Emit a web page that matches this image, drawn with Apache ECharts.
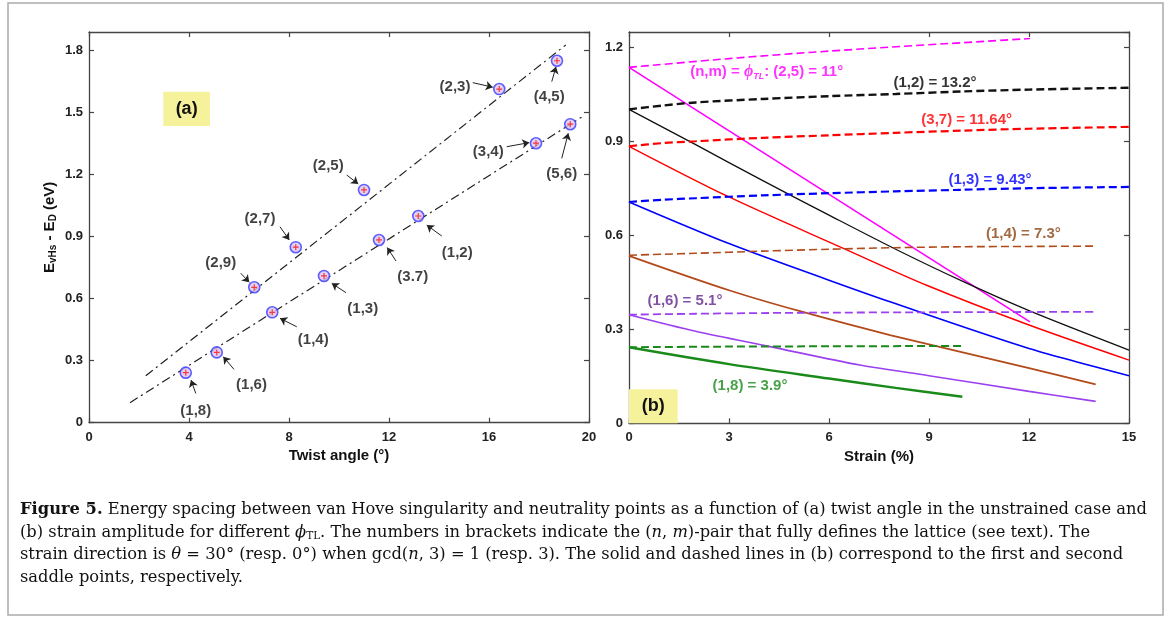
<!DOCTYPE html>
<html><head><meta charset="utf-8">
<script src="https://cdn.jsdelivr.net/npm/echarts@6/dist/echarts.min.js"></script>
<style>html,body{margin:0;padding:0;background:#fff}#c{width:1171px;height:617px}</style>
</head><body><div id="c"></div>
<script>
// ---------- Panel (a) data ----------
const twistAngles   = [3.87, 5.11, 6.61, 7.33, 8.27, 9.40, 11.0, 11.6, 13.17, 16.41, 17.88, 18.72, 19.25];
const energySpacing = [0.242, 0.34, 0.655, 0.534, 0.849, 0.71, 1.126, 0.884, 1.0, 1.614, 1.352, 1.751, 1.444];
const pairLabels    = ['(1,8)','(1,6)','(2,9)','(1,4)','(2,7)','(1,3)','(2,5)','(3.7)','(1,2)','(2,3)','(3,4)','(4,5)','(5,6)'];
const labelX = [4.27, 6.5, 5.27, 8.97, 6.84, 10.95, 9.57, 12.95, 14.73, 14.64, 15.97, 18.41, 18.91];
const labelY = [0.057, 0.182, 0.774, 0.40, 0.985, 0.553, 1.242, 0.706, 0.823, 1.626, 1.311, 1.577, 1.203];
const arrowTailX = [4.27, 5.8, 6.07, 8.31, 7.64, 10.28, 10.31, 12.28, 14.11, 15.35, 16.71, 18.51, 18.91];
const arrowTailY = [0.142, 0.258, 0.723, 0.464, 0.948, 0.629, 1.198, 0.782, 0.903, 1.645, 1.335, 1.650, 1.279];
const arrowHeadX = [4.08, 5.37, 6.41, 7.64, 8.01, 9.71, 10.77, 11.93, 13.51, 16.15, 17.61, 18.68, 19.17];
const arrowHeadY = [0.206, 0.319, 0.679, 0.505, 0.884, 0.674, 1.155, 0.847, 0.956, 1.623, 1.355, 1.722, 1.40];
const upperFitX = [2.27, 19.07], upperFitY = [0.227, 1.827];
const lowerFitX = [1.64, 19.7],  lowerFitY = [0.097, 1.478];
const twistTicks = [0, 4, 8, 12, 16, 20];
const energyTicksA = [0, 0.3, 0.6, 0.9, 1.2, 1.5, 1.8];

// ---------- Panel (b) data ----------
const magentaSolidX = [0, 12.03];            const magentaSolidY = [1.137, 0.324];
const magentaDashX  = [0, 3, 6, 12.03];      const magentaDashY  = [1.137, 1.165, 1.189, 1.229];
const blackSolidX = [0, 2, 4, 6, 8, 10, 12, 15];     const blackSolidY = [1.003, 0.89, 0.776, 0.665, 0.556, 0.454, 0.36, 0.234];
const blackDashX  = [0, 1, 2, 4, 6, 8, 10, 12, 15];  const blackDashY  = [1.003, 1.015, 1.025, 1.036, 1.045, 1.052, 1.06, 1.066, 1.072];
const redSolidX = [0, 3, 6.43, 8.93, 12, 15];        const redSolidY = [0.885, 0.723, 0.559, 0.441, 0.314, 0.202];
const redDashX  = [0, 1, 2, 4, 6, 8, 10, 12, 15];    const redDashY  = [0.885, 0.895, 0.901, 0.912, 0.92, 0.928, 0.935, 0.941, 0.947];
const blueSolidX = [0, 3, 6, 7.83, 12, 15];          const blueSolidY = [0.707, 0.574, 0.457, 0.388, 0.239, 0.152];
const blueDashX  = [0, 1, 2, 4, 6, 8, 10, 12, 15];   const blueDashY  = [0.707, 0.714, 0.719, 0.728, 0.735, 0.741, 0.746, 0.751, 0.755];
const brownSolidX = [0, 3, 5.13, 7.83, 12, 14];      const brownSolidY = [0.535, 0.425, 0.358, 0.282, 0.176, 0.124];
const brownDashX  = [0, 1, 2, 4, 6, 8, 10, 12, 14];  const brownDashY  = [0.537, 0.54, 0.543, 0.55, 0.556, 0.561, 0.564, 0.565, 0.566];
const purpleSolidX = [0, 2, 4.23, 6.93, 9, 12, 14];  const purpleSolidY = [0.347, 0.294, 0.245, 0.186, 0.152, 0.102, 0.07];
const purpleDashX  = [0, 2, 5, 10, 14];              const purpleDashY  = [0.347, 0.35, 0.353, 0.355, 0.356];
const greenSolidX = [0, 3, 6, 8, 10];                const greenSolidY = [0.243, 0.189, 0.143, 0.113, 0.085];
const greenDashX  = [0, 3, 6, 10];                   const greenDashY  = [0.243, 0.245, 0.246, 0.247];
const strainTicks = [0, 3, 6, 9, 12, 15];
const energyTicksB = [0, 0.3, 0.6, 0.9, 1.2];
const curveLabels = ['{t|(n,m) = }{i|ϕ}{s|TL}{t|: (2,5) = 11°}', '(1,2) = 13.2°', '(3,7) = 11.64°', '(1,3) = 9.43°', '(1,4) = 7.3°', '(1,6) = 5.1°', '(1,8) = 3.9°'];
const curveLabelX = [4.13, 9.18, 10.13, 10.83, 11.83, 1.68, 3.63];
const curveLabelY = [1.122, 1.087, 0.968, 0.777, 0.606, 0.391, 0.119];
const curveLabelColors = ['#ff00ff', '#000000', '#ff0000', '#0000ff', '#8b4513', '#62268f', '#1a8a1a'];

const zip = (xs, ys) => xs.map((x, i) => [x, ys[i]]);
const chart = echarts.init(document.getElementById('c'), null, {renderer: 'canvas'});

const tickFont = {fontFamily: 'Liberation Sans', fontWeight: 'bold', fontSize: 13, color: '#222'};
const frameLine = () => ({show: true, onZero: false, lineStyle: {color: '#444', width: 1.3}});
const innerTick = () => ({show: true, inside: true, length: 5, lineStyle: {color: '#444', width: 1.2}});
function mainX(grid, min, max, interval, name) {
  return {type: 'value', gridIndex: grid, min, max, interval, position: 'bottom',
    axisLine: frameLine(), axisTick: innerTick(),
    axisLabel: Object.assign({margin: 8}, tickFont), splitLine: {show: false},
    name, nameLocation: 'middle', nameGap: 25,
    nameTextStyle: {fontFamily: 'Liberation Sans', fontWeight: 'bold', fontSize: 15, color: '#111'}};
}
function topX(grid, min, max, interval) {
  return {type: 'value', gridIndex: grid, min, max, interval, position: 'top',
    axisLine: frameLine(), axisTick: innerTick(),
    axisLabel: {show: false}, splitLine: {show: false}};
}
function mainY(grid, min, max, interval, name) {
  return {type: 'value', gridIndex: grid, min, max, interval, position: 'left',
    axisLine: frameLine(), axisTick: innerTick(),
    axisLabel: Object.assign({margin: 6, showMaxLabel: false, formatter: v => v === 0 ? '0' : v.toFixed(1)}, tickFont),
    splitLine: {show: false}, name, nameLocation: 'middle', nameGap: 31, nameRotate: 90,
    nameTextStyle: {fontFamily: 'Liberation Sans', fontWeight: 'bold', fontSize: 15, color: '#111',
      rich: {m: {fontFamily: 'Liberation Sans', fontWeight: 'bold', fontSize: 15, color: '#111'},
             s: {fontFamily: 'Liberation Sans', fontWeight: 'bold', fontSize: 10, color: '#111', verticalAlign: 'bottom', padding: [6, 0, 0, 0]}}}};
}
function rightY(grid, min, max, interval) {
  return {type: 'value', gridIndex: grid, min, max, interval, position: 'right',
    axisLine: frameLine(), axisTick: innerTick(),
    axisLabel: {show: false}, splitLine: {show: false}};
}

const series = [];
// Panel (a) fit lines
series.push({type: 'line', xAxisIndex: 0, yAxisIndex: 0, data: zip(upperFitX, upperFitY), symbol: 'none',
  lineStyle: {color: '#222', width: 1.2, type: [9, 4, 2, 4]}, silent: true, z: 2});
series.push({type: 'line', xAxisIndex: 0, yAxisIndex: 0, data: zip(lowerFitX, lowerFitY), symbol: 'none',
  lineStyle: {color: '#222', width: 1.2, type: [9, 4, 2, 4]}, silent: true, z: 2});
// markers
series.push({type: 'scatter', xAxisIndex: 0, yAxisIndex: 0, data: zip(twistAngles, energySpacing), symbol: 'circle', symbolSize: 11,
  itemStyle: {color: '#d9c6f2', borderColor: '#3a3aff', borderWidth: 1.6}, z: 4});
series.push({type: 'scatter', xAxisIndex: 0, yAxisIndex: 0, data: zip(twistAngles, energySpacing),
  symbol: 'path://M4,0h2v4h4v2h-4v4h-2v-4h-4v-2h4z', symbolSize: 6, itemStyle: {color: '#ff1010'}, z: 5});
// arrows
series.push({type: 'lines', coordinateSystem: 'cartesian2d', xAxisIndex: 0, yAxisIndex: 0,
  data: arrowTailX.map((x, i) => ({coords: [[x, arrowTailY[i]], [arrowHeadX[i], arrowHeadY[i]]]})),
  symbol: ['none', 'arrow'], symbolSize: 7, lineStyle: {color: '#222', width: 1, opacity: 1, curveness: 0}, z: 3});
// pair labels + (a) box
series.push({type: 'scatter', xAxisIndex: 0, yAxisIndex: 0, symbolSize: 0,
  data: labelX.map((x, i) => ({value: [x, labelY[i]], name: pairLabels[i]})),
  label: {show: true, position: 'inside', formatter: p => p.name, fontFamily: 'Liberation Sans', fontWeight: 'bold', fontSize: 15, color: '#111'},
  markArea: {silent: true, itemStyle: {color: '#f6f29c'},
    label: {show: true, position: 'inside', formatter: '(a)', fontFamily: 'Liberation Sans', fontWeight: 'bold', fontSize: 18, color: '#111'},
    data: [[{coord: [2.97, 1.601]}, {coord: [4.84, 1.435]}]]}, z: 6});

// Panel (b) curves
function curve(xs, ys, color, width, dashed, z) {
  series.push({type: 'line', xAxisIndex: 2, yAxisIndex: 2, data: zip(xs, ys), symbol: 'none', smooth: 0.3, silent: true,
    lineStyle: {color, width, type: dashed ? [8, 4] : 'solid'}, z: z || 2});
}
curve(magentaDashX, magentaDashY, '#ff00ff', 1.6, true);
curve(magentaSolidX, magentaSolidY, '#ff00ff', 1.6, false);
curve(blackDashX, blackDashY, '#111111', 2.4, true);
curve(blackSolidX, blackSolidY, '#111111', 1.3, false);
curve(redDashX, redDashY, '#ff0000', 2.2, true);
curve(redSolidX, redSolidY, '#ff0000', 1.4, false);
curve(blueDashX, blueDashY, '#0000ff', 2.2, true);
curve(blueSolidX, blueSolidY, '#0000ff', 1.6, false);
curve(brownDashX, brownDashY, '#b34a1a', 1.6, true);
curve(brownSolidX, brownSolidY, '#b34a1a', 1.8, false);
curve(purpleDashX, purpleDashY, '#9b40f0', 1.8, true);
curve(purpleSolidX, purpleSolidY, '#9b40f0', 1.6, false);
curve(greenDashX, greenDashY, '#1a8a1a', 2.0, true);
curve(greenSolidX, greenSolidY, '#1a8a1a', 2.4, false);
// curve labels + (b) box
series.push({type: 'scatter', xAxisIndex: 2, yAxisIndex: 2, symbolSize: 0,
  data: curveLabelX.map((x, i) => ({value: [x, curveLabelY[i]], name: curveLabels[i],
    label: {color: curveLabelColors[i],
      rich: {t: {color: curveLabelColors[i], fontFamily: 'Liberation Sans', fontWeight: 'bold', fontSize: 15},
             i: {color: curveLabelColors[i], fontFamily: 'Liberation Serif', fontStyle: 'italic', fontWeight: 'bold', fontSize: 16},
             s: {color: curveLabelColors[i], fontFamily: 'Liberation Sans', fontStyle: 'italic', fontWeight: 'bold', fontSize: 9, verticalAlign: 'bottom', padding: [8, 0, 0, 0]}}}})),
  label: {show: true, position: 'inside', formatter: p => p.name, fontFamily: 'Liberation Sans', fontWeight: 'bold', fontSize: 15},
  markArea: {silent: true, itemStyle: {color: '#f6f29c'},
    label: {show: true, position: 'inside', formatter: '(b)', fontFamily: 'Liberation Sans', fontWeight: 'bold', fontSize: 18, color: '#111'},
    data: [[{coord: [0, 0]}, {coord: [1.46, 0.109]}]]}, z: 6});

const capFont = 'DejaVu Serif';
const capSize = 16.3;
const capRich = {
  b: {fontFamily: capFont, fontWeight: 'bold', fontSize: capSize, color: '#111'},
  n: {fontFamily: capFont, fontSize: capSize, color: '#111'},
  i: {fontFamily: capFont, fontStyle: 'italic', fontSize: capSize, color: '#111'},
  s: {fontFamily: capFont, fontSize: 10.5, color: '#111', verticalAlign: 'bottom', padding: [8, 0, 0, 0]}
};
const captionLines = [
  '{b|Figure 5.}{n| Energy spacing between van Hove singularity and neutrality points as a function of (a) twist angle in the unstrained case and}',
  '{n|(b) strain amplitude for different }{i|ϕ}{s|TL}{n|. The numbers in brackets indicate the (}{i|n}{n|, }{i|m}{n|)-pair that fully defines the lattice (see text). The}',
  '{n|strain direction is }{i|θ}{n| = 30° (resp. 0°) when gcd(}{i|n}{n|, 3) = 1 (resp. 3). The solid and dashed lines in (b) correspond to the first and second}',
  '{n|saddle points, respectively.}'
];
const captionY = [513, 535.5, 558, 580.5];

chart.setOption({
  animation: false,
  backgroundColor: '#fff',
  grid: [
    {left: 89, top: 32, width: 500, height: 390.7, containLabel: false},
    {left: 629, top: 32, width: 500, height: 391.3, containLabel: false}
  ],
  xAxis: [
    mainX(0, 0, 20, 4, 'Twist angle (°)'), topX(0, 0, 20, 4),
    mainX(1, 0, 15, 3, 'Strain (%)'), topX(1, 0, 15, 3)
  ],
  yAxis: [
    mainY(0, 0, 1.89, 0.3, '{m|E}{s|vHs}{m| - E}{s|D}{m| (eV)}'), rightY(0, 0, 1.89, 0.3),
    mainY(1, 0, 1.25, 0.3, ''), rightY(1, 0, 1.25, 0.3)
  ],
  series,
  graphic: [
    {type: 'rect', shape: {x: 8, y: 3, width: 1155, height: 612}, style: {fill: 'none', stroke: '#aaa', lineWidth: 1.5}, silent: true},
    ...captionLines.map((t, i) => ({type: 'text', left: 20, top: captionY[i] - 11, silent: true,
      style: {text: t, rich: capRich, fontFamily: capFont, fontSize: capSize, fill: '#111'}}))
  ]
});
</script></body></html>
